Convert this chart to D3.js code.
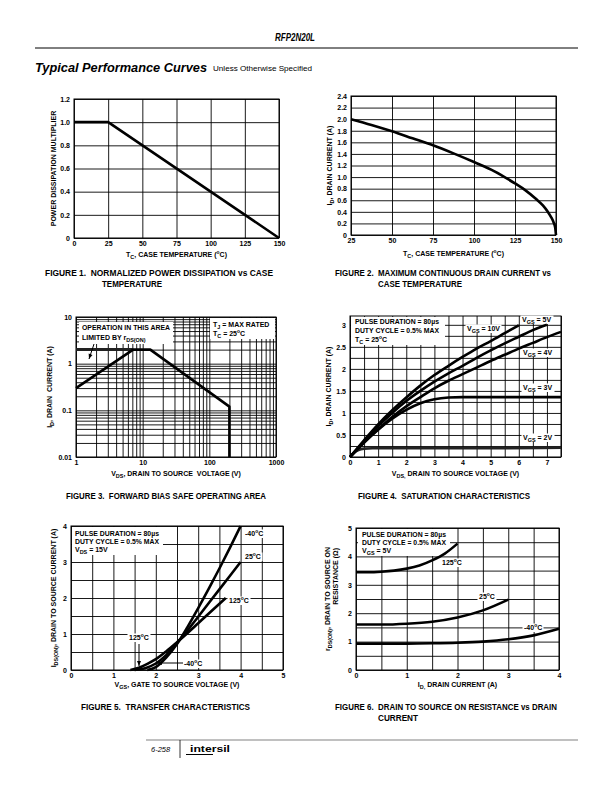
<!DOCTYPE html>
<html><head><meta charset="utf-8">
<script src="https://cdn.jsdelivr.net/npm/d3@7"></script>
<style>
body{margin:0;background:#fff}
svg{display:block}
text{font-family:"Liberation Sans",Arial,Helvetica,sans-serif;fill:#000}
</style>
</head><body>
<svg id="page" width="612" height="792"></svg>
<script>
// ---------------- DATA ----------------
// Figure 1
const f1Temp = [0, 25, 150];
const f1Mult = [1.0, 1.0, 0];
const f1XTicks = [0, 25, 50, 75, 100, 125, 150];
const f1XLabels = ["0", "25", "50", "75", "100", "125", "150"];
const f1YTicks = [0, 0.2, 0.4, 0.6, 0.8, 1.0, 1.2];
const f1YLabels = ["0", "0.2", "0.4", "0.6", "0.8", "1.0", "1.2"];

// Figure 2
const f2Temp = [25, 37.5, 50, 62.5, 75, 87.5, 100, 112.5, 125, 131, 137.5, 142, 145, 147, 148.5, 149.5, 150];
const f2Id = [2.0, 1.90, 1.79, 1.67, 1.55, 1.41, 1.26, 1.10, 0.89, 0.78, 0.63, 0.51, 0.40, 0.31, 0.22, 0.13, 0];
const f2XTicks = [25, 50, 75, 100, 125, 150];
const f2XLabels = ["25", "50", "75", "100", "125", "150"];
const f2YTicks = [0, 0.2, 0.4, 0.6, 0.8, 1.0, 1.2, 1.4, 1.6, 1.8, 2.0, 2.2, 2.4];
const f2YLabels = ["0", "0.2", "0.4", "0.6", "0.8", "1.0", "1.2", "1.4", "1.6", "1.8", "2.0", "2.2", "2.4"];

// Figure 3 (log-log safe operating area)
const f3SoaV = [1, 7.2, 13, 200, 200];
const f3SoaI = [0.3, 2, 2, 0.12, 0.01];
const f3RdsV = [1, 7.2];
const f3RdsI = [2, 2];
const f3XTicks = [1, 10, 100, 1000];
const f3XLabels = ["1", "10", "100", "1000"];
const f3YTicks = [0.01, 0.1, 1, 10];
const f3YLabels = ["0.01", "0.1", "1", "10"];

// Figure 4 (saturation characteristics)
const f4Vgs10V = [0, 0.5, 1, 1.5, 2, 2.5, 3, 3.5, 4, 4.5, 5, 5.5, 6];
const f4Vgs10I = [0, 0.38, 0.74, 1.06, 1.35, 1.62, 1.86, 2.07, 2.27, 2.46, 2.63, 2.81, 2.99];
const f4Vgs5V = [0, 0.5, 1, 1.5, 2, 2.5, 3, 3.5, 4, 4.5, 5, 5.5, 6, 6.5, 7];
const f4Vgs5I = [0, 0.36, 0.7, 1.0, 1.27, 1.5, 1.71, 1.9, 2.07, 2.25, 2.42, 2.58, 2.73, 2.88, 3.0];
const f4Vgs4V = [0, 0.5, 1, 1.5, 2, 2.5, 3, 3.5, 4, 4.5, 5, 5.5, 6, 6.5, 7, 7.5];
const f4Vgs4I = [0, 0.33, 0.63, 0.91, 1.15, 1.36, 1.56, 1.73, 1.88, 2.03, 2.18, 2.32, 2.46, 2.59, 2.72, 2.84];
const f4Vgs3V = [0, 0.5, 1, 1.5, 2, 2.5, 3, 3.5, 4, 5, 6, 7, 7.5];
const f4Vgs3I = [0, 0.33, 0.62, 0.87, 1.07, 1.22, 1.31, 1.35, 1.36, 1.36, 1.36, 1.36, 1.36];
const f4Vgs2V = [0, 0.15, 0.3, 0.5, 0.8, 1.5, 3, 5, 7.5];
const f4Vgs2I = [0, 0.1, 0.16, 0.19, 0.2, 0.2, 0.2, 0.2, 0.21];
const f4XTicks = [0, 1, 2, 3, 4, 5, 6, 7];
const f4XLabels = ["0", "1", "2", "3", "4", "5", "6", "7"];
const f4YTicks = [0, 0.5, 1, 1.5, 2, 2.5, 3];
const f4YLabels = ["0", "0.5", "1", "1.5", "2", "2.5", "3"];

// Figure 5 (transfer characteristics)
const f5M40Vgs = [1.8, 2.0, 2.25, 2.5, 2.75, 3.0, 3.25, 3.5, 3.75, 4.0];
const f5M40Id = [0, 0.08, 0.35, 0.72, 1.2, 1.72, 2.26, 2.82, 3.4, 4.0];
const f5T25Vgs = [1.5, 1.75, 2.0, 2.25, 2.5, 2.75, 3.0, 3.5, 4.0];
const f5T25Id = [0, 0.05, 0.18, 0.42, 0.75, 1.1, 1.48, 2.24, 3.0];
const f5T125Vgs = [1.4, 1.6, 1.8, 2.0, 2.25, 2.5, 2.75, 3.0, 3.25, 3.65];
const f5T125Id = [0, 0.06, 0.17, 0.3, 0.52, 0.77, 1.03, 1.3, 1.57, 2.0];
const f5XTicks = [0, 1, 2, 3, 4, 5];
const f5XLabels = ["0", "1", "2", "3", "4", "5"];
const f5YTicks = [0, 1, 2, 3, 4];
const f5YLabels = ["0", "1", "2", "3", "4"];

// Figure 6 (on resistance vs drain current)
const f6T125Id = [0, 0.25, 0.5, 0.75, 1, 1.25, 1.5, 1.75, 2];
const f6T125R = [3.44, 3.44, 3.46, 3.5, 3.57, 3.68, 3.86, 4.1, 4.45];
const f6T25Id = [0, 0.5, 1, 1.5, 2, 2.5, 3];
const f6T25R = [1.6, 1.6, 1.63, 1.7, 1.85, 2.1, 2.48];
const f6M40Id = [0, 0.5, 1, 1.5, 2, 2.5, 3, 3.5, 4];
const f6M40R = [0.93, 0.93, 0.93, 0.94, 0.96, 1.0, 1.08, 1.22, 1.45];
const f6XTicks = [0, 1, 2, 3, 4];
const f6XLabels = ["0", "1", "2", "3", "4"];
const f6YTicks = [0, 1, 2, 3, 4, 5];
const f6YLabels = ["0", "1", "2", "3", "4", "5"];

// ---------------- HELPERS ----------------
const svg = d3.select("#page");
const SP2 = "\u00A0\u00A0";

function rich(t, str, size) {
  const parts = str.split(/([_^]\{[^}]*\})/).filter(s => s.length);
  let off = 0;
  parts.forEach(p => {
    let target = 0, fs = size, s = p;
    if (p.startsWith("_{")) { target = size * 0.3; fs = size * 0.78; s = p.slice(2, -1); }
    else if (p.startsWith("^{")) { target = -size * 0.4; fs = size * 0.7; s = p.slice(2, -1); }
    t.append("tspan").attr("dy", (target - off).toFixed(2)).attr("font-size", fs).text(s);
    off = target;
  });
}

function txt(x, y, str, o = {}) {
  const size = o.size || 7;
  const t = svg.append("text")
    .attr("font-size", size)
    .attr("font-weight", o.weight || "bold")
    .attr("font-style", o.style || "normal")
    .attr("text-anchor", o.anchor || "start");
  if (o.rotate) t.attr("transform", `translate(${x},${y}) rotate(-90)`);
  else t.attr("x", x).attr("y", y);
  if (o.len) t.attr("textLength", o.len).attr("lengthAdjust", "spacingAndGlyphs");
  rich(t, str, size);
  return t;
}

function whiteBox(x, y, w, h) {
  svg.append("rect").attr("x", x).attr("y", y).attr("width", w).attr("height", h).attr("fill", "#fff");
}

function label(x, y, s, w) {
  whiteBox(x - 1.5, y - 6.5, w, 8.5);
  txt(x, y, s, { size: 7 });
}

function panel(c) {
  const g = svg.append("g");
  const [xl, xr] = c.x.range();
  const [yb, yt] = c.y.range();
  g.append("g").attr("transform", `translate(0,${yb})`)
    .call(d3.axisBottom(c.x).tickValues(c.xGrid).tickSize(-(yb - yt)).tickFormat(""))
    .call(a => a.select(".domain").remove())
    .selectAll("line").attr("stroke", "#000").attr("stroke-width", 0.9);
  g.append("g").attr("transform", `translate(${xl},0)`)
    .call(d3.axisLeft(c.y).tickValues(c.yGrid).tickSize(-(xr - xl)).tickFormat(""))
    .call(a => a.select(".domain").remove())
    .selectAll("line").attr("stroke", "#000").attr("stroke-width", 0.9);
  g.append("rect").attr("x", xl).attr("y", yt).attr("width", xr - xl).attr("height", yb - yt)
    .attr("fill", "none").attr("stroke", "#000").attr("stroke-width", 1);
  const xa = g.append("g").attr("transform", `translate(0,${yb})`)
    .call(d3.axisBottom(c.x).tickValues(c.xTicks).tickSize(0).tickPadding(c.xPad || 3)
      .tickFormat((d, i) => c.xLabels[i]));
  xa.select(".domain").remove();
  xa.selectAll("text").attr("font-size", 7).attr("font-weight", "bold")
    .attr("font-family", '"Liberation Sans",Arial,sans-serif').attr("fill", "#000");
  const ya = g.append("g").attr("transform", `translate(${xl},0)`)
    .call(d3.axisLeft(c.y).tickValues(c.yTicks).tickSize(0).tickPadding(c.yPad || 4)
      .tickFormat((d, i) => c.yLabels[i]));
  ya.select(".domain").remove();
  ya.selectAll("text").attr("font-size", 7).attr("font-weight", "bold")
    .attr("font-family", '"Liberation Sans",Arial,sans-serif').attr("fill", "#000");
  txt((xl + xr) / 2 + (c.xTitleDx || 0), c.xTitleY, c.xTitle, { anchor: "middle" });
  txt(c.yTitleX, (yb + yt) / 2 + (c.yTitleDy || 0), c.yTitle, { anchor: "middle", rotate: true });
  return g;
}

function curve(c, xs, ys, o = {}) {
  const line = d3.line().x(d => c.x(d[0])).y(d => c.y(d[1]))
    .curve(o.linear ? d3.curveLinear : d3.curveMonotoneX);
  svg.append("path").datum(xs.map((v, i) => [v, ys[i]]))
    .attr("d", line).attr("fill", "none")
    .attr("stroke", o.color || "#000").attr("stroke-width", o.w || 2.6)
    .attr("stroke-linejoin", "round").attr("stroke-linecap", "butt");
}

function arrow(x1, y1, x2, y2) {
  svg.append("line").attr("x1", x1).attr("y1", y1).attr("x2", x2).attr("y2", y2)
    .attr("stroke", "#000").attr("stroke-width", 1);
  const ang = Math.atan2(y2 - y1, x2 - x1);
  const L = 5, W = 2;
  const p = [[x2, y2],
    [x2 - L * Math.cos(ang) + W * Math.sin(ang), y2 - L * Math.sin(ang) - W * Math.cos(ang)],
    [x2 - L * Math.cos(ang) - W * Math.sin(ang), y2 - L * Math.sin(ang) + W * Math.cos(ang)]];
  svg.append("path").attr("d", "M" + p.join("L") + "Z").attr("fill", "#000");
}

const range = (a, b, s) => d3.range(a, b + s / 2, s);

// ---------------- PAGE HEADER ----------------
txt(295, 41, "RFP2N20L", { size: 11.5, style: "italic", anchor: "middle", len: 40 });
svg.append("line").attr("x1", 35).attr("x2", 578).attr("y1", 48).attr("y2", 48)
  .attr("stroke", "#000").attr("stroke-width", 1);
txt(35, 72, "Typical Performance Curves", { size: 12, style: "italic", len: 172 });
txt(213, 71, "Unless Otherwise Specified", { size: 7, weight: "normal", len: 99 });

// ---------------- FIGURE 1 ----------------
const c1 = {
  x: d3.scaleLinear().domain([0, 150]).range([74, 279]),
  y: d3.scaleLinear().domain([0, 1.2]).range([238, 99]),
  xGrid: f1XTicks, yGrid: f1YTicks, xTicks: f1XTicks, xLabels: f1XLabels,
  yTicks: f1YTicks, yLabels: f1YLabels,
  xTitle: "T_{C}, CASE TEMPERATURE (^{o}C)", xTitleY: 257,
  yTitle: "POWER DISSIPATION MULTIPLIER", yTitleX: 56
};
panel(c1);
curve(c1, f1Temp, f1Mult, { linear: true });
txt(45, 276, "FIGURE 1." + SP2 + "NORMALIZED POWER DISSIPATION vs CASE", { size: 8.5, len: 228 });
txt(102, 287, "TEMPERATURE", { size: 8.5, len: 60 });

// ---------------- FIGURE 2 ----------------
const c2 = {
  x: d3.scaleLinear().domain([25, 150]).range([351, 556]),
  y: d3.scaleLinear().domain([0, 2.4]).range([235, 96]),
  xGrid: f2XTicks, yGrid: f2YTicks, xTicks: f2XTicks, xLabels: f2XLabels,
  yTicks: f2YTicks, yLabels: f2YLabels,
  xTitle: "T_{C}, CASE TEMPERATURE (^{o}C)", xTitleY: 256,
  yTitle: "I_{D}, DRAIN CURRENT (A)", yTitleX: 332
};
panel(c2);
curve(c2, f2Temp, f2Id);
txt(335, 276, "FIGURE 2." + SP2 + "MAXIMUM CONTINUOUS DRAIN CURRENT vs", { size: 8.5, len: 216 });
txt(378, 287, "CASE TEMPERATURE", { size: 8.5, len: 84 });

// ---------------- FIGURE 3 ----------------
const f3XGrid = [];
[1, 10, 100].forEach(dec => d3.range(1, 10).forEach(m => f3XGrid.push(dec * m)));
f3XGrid.push(1000);
const f3YGrid = [];
[0.01, 0.1, 1].forEach(dec => d3.range(1, 10).forEach(m => f3YGrid.push(+(dec * m).toPrecision(3))));
f3YGrid.push(10);
const c3 = {
  x: d3.scaleLog().domain([1, 1000]).range([76, 276]),
  y: d3.scaleLog().domain([0.01, 10]).range([457, 317]),
  xGrid: f3XGrid, yGrid: f3YGrid, xTicks: f3XTicks, xLabels: f3XLabels,
  yTicks: f3YTicks, yLabels: f3YLabels,
  xTitle: "V_{DS}, DRAIN TO SOURCE" + SP2 + "VOLTAGE (V)", xTitleY: 476,
  yTitle: "I_{D}, DRAIN" + SP2 + "CURRENT (A)", yTitleX: 52
};
panel(c3);
whiteBox(79, 322, 94, 22);
txt(82, 330, "OPERATION IN THIS AREA", { size: 7, len: 88 });
txt(82, 340, "LIMITED BY r_{DS(ON)}", { size: 7 });
whiteBox(210, 318, 65, 21);
txt(213, 327, "T_{J} = MAX RATED", { size: 7 });
txt(213, 336, "T_{C} = 25^{o}C", { size: 7 });
curve(c3, f3RdsV, f3RdsI, { linear: true, w: 3, color: "#222" });
curve(c3, f3SoaV, f3SoaI, { linear: true });
arrow(94, 344, 89, 359);
txt(66, 499, "FIGURE 3." + SP2 + "FORWARD BIAS SAFE OPERATING AREA", { size: 8.5, len: 200 });

// ---------------- FIGURE 4 ----------------
const c4 = {
  x: d3.scaleLinear().domain([0, 7.5]).range([350, 561]),
  y: d3.scaleLinear().domain([0, 3.2]).range([457, 316]),
  xGrid: range(0, 7.5, 0.5), yGrid: range(0, 3.0, 0.25), xTicks: f4XTicks, xLabels: f4XLabels,
  yTicks: f4YTicks, yLabels: f4YLabels,
  xTitle: "V_{DS,} DRAIN TO SOURCE VOLTAGE (V)", xTitleY: 476,
  yTitle: "I_{D}, DRAIN CURRENT (A)", yTitleX: 331
};
panel(c4);
whiteBox(351, 317, 94, 28);
txt(355, 324, "PULSE DURATION = 80µs", { size: 7, len: 84 });
txt(355, 333, "DUTY CYCLE = 0.5% MAX", { size: 7, len: 84 });
txt(355, 342, "T_{C} = 25^{o}C", { size: 7 });
label(522, 322, "V_{GS} = 5V", 33);
label(467, 331, "V_{GS} = 10V", 36);
label(523, 355, "V_{GS} = 4V", 33);
label(523, 390, "V_{GS} = 3V", 33);
label(523, 440, "V_{GS} = 2V", 33);
curve(c4, f4Vgs2V, f4Vgs2I, { w: 2.6, color: "#222" });
curve(c4, f4Vgs3V, f4Vgs3I);
curve(c4, f4Vgs4V, f4Vgs4I);
curve(c4, f4Vgs5V, f4Vgs5I);
curve(c4, f4Vgs10V, f4Vgs10I);
txt(358, 499, "FIGURE 4." + SP2 + "SATURATION CHARACTERISTICS", { size: 8.5, len: 172 });

// ---------------- FIGURE 5 ----------------
const c5 = {
  x: d3.scaleLinear().domain([0, 5]).range([71, 283]),
  y: d3.scaleLinear().domain([0, 4]).range([670, 526]),
  xGrid: range(0, 5, 0.5), yGrid: range(0, 4, 0.5), xTicks: f5XTicks, xLabels: f5XLabels,
  yTicks: f5YTicks, yLabels: f5YLabels,
  xTitle: "V_{GS}, GATE TO SOURCE VOLTAGE (V)", xTitleY: 687,
  yTitle: "I_{DS(ON)}, DRAIN TO SOURCE CURRENT (A)", yTitleX: 56
};
panel(c5);
whiteBox(72, 527, 91, 28);
txt(75, 536, "PULSE DURATION = 80µs", { size: 7, len: 84 });
txt(75, 544, "DUTY CYCLE = 0.5% MAX", { size: 7, len: 84 });
txt(75, 552, "V_{DS} = 15V", { size: 7 });
label(245, 536, "-40^{o}C", 21);
label(245, 559, "25^{o}C", 19);
label(229, 603, "125^{o}C", 23);
label(129, 640, "125^{o}C", 23);
label(184, 666, "-40^{o}C", 21);
curve(c5, f5T125Vgs, f5T125Id);
curve(c5, f5T25Vgs, f5T25Id);
curve(c5, f5M40Vgs, f5M40Id);
arrow(139, 644, 139, 666);
arrow(183, 663, 157, 663);
txt(81, 710, "FIGURE 5." + SP2 + "TRANSFER CHARACTERISTICS", { size: 8.5, len: 169 });

// ---------------- FIGURE 6 ----------------
const c6 = {
  x: d3.scaleLinear().domain([0, 4]).range([356, 559]),
  y: d3.scaleLinear().domain([0, 5]).range([670, 528]),
  xGrid: range(0, 4, 0.5), yGrid: range(0, 5, 0.5), xTicks: f6XTicks, xLabels: f6XLabels,
  yTicks: f6YTicks, yLabels: f6YLabels,
  xTitle: "I_{D,} DRAIN CURRENT (A)", xTitleY: 687,
  yTitle: "r_{DS(ON)}, DRAIN TO SOURCE ON", yTitleX: 330
};
panel(c6);
txt(338, 548, "RESISTANCE (Ω)", { anchor: "end", rotate: true });
whiteBox(358, 529, 92, 27);
txt(362, 537, "PULSE DURATION = 80µs", { size: 7, len: 84 });
txt(362, 545, "DUTY CYCLE = 0.5% MAX", { size: 7, len: 84 });
txt(362, 553, "V_{GS} = 5V", { size: 7 });
label(442, 565, "125^{o}C", 23);
label(479, 599, "25^{o}C", 19);
label(524, 630, "-40^{o}C", 21);
curve(c6, f6M40Id, f6M40R);
curve(c6, f6T25Id, f6T25R);
curve(c6, f6T125Id, f6T125R);
txt(335, 710, "FIGURE 6." + SP2 + "DRAIN TO SOURCE ON RESISTANCE vs DRAIN", { size: 8.5, len: 222 });
txt(378, 721, "CURRENT", { size: 8.5, len: 40 });

// ---------------- FOOTER ----------------
svg.append("line").attr("x1", 146).attr("x2", 578).attr("y1", 740).attr("y2", 740)
  .attr("stroke", "#000").attr("stroke-width", 0.5);
txt(151, 752, "6-258", { size: 7.5, weight: "normal", style: "italic" });
svg.append("line").attr("x1", 180).attr("x2", 180).attr("y1", 740).attr("y2", 758)
  .attr("stroke", "#000").attr("stroke-width", 0.8);
txt(190, 752, "intersil", { size: 9.5, len: 40 });
svg.append("line").attr("x1", 186).attr("x2", 213).attr("y1", 754.5).attr("y2", 754.5)
  .attr("stroke", "#000").attr("stroke-width", 1);
</script>
</body></html>
